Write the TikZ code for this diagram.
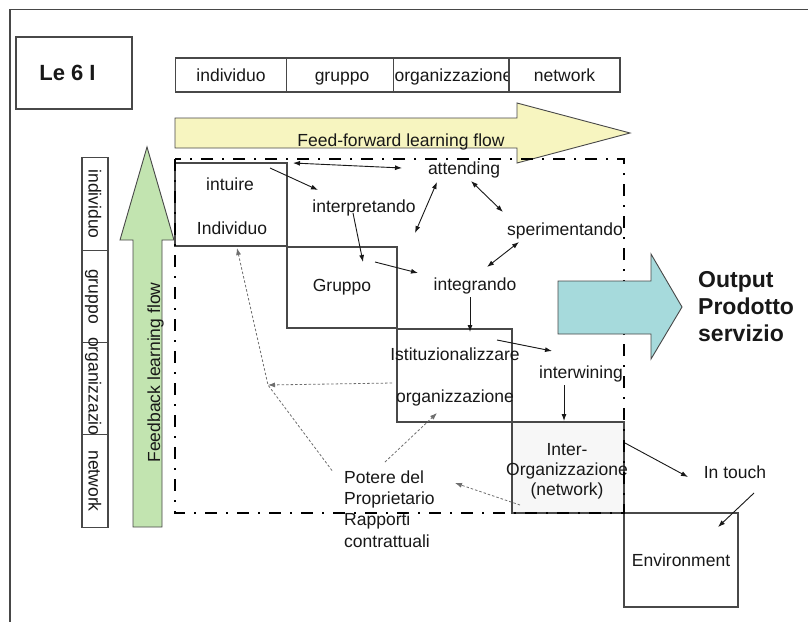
\documentclass[tikz,border=0pt]{standalone}
\usepackage{fontspec}
\setmainfont{Liberation Sans}
\usetikzlibrary{arrows.meta}
\definecolor{ffyellow}{RGB}{247,245,192}
\definecolor{fbgreen}{RGB}{194,228,176}
\definecolor{outteal}{RGB}{166,218,220}
\definecolor{ink}{RGB}{24,24,24}
\definecolor{edge}{RGB}{72,72,72}
\definecolor{fbline}{RGB}{110,110,110}

\begin{document}
\begin{tikzpicture}[x=1pt,y=-1pt,
  >={Latex[length=7pt,width=5pt]},
  every node/.style={text=ink, inner sep=1pt},
  lbl/.style={font=\fontsize{17.5}{20}\selectfont},
  box/.style={draw=edge, line width=1.2pt, fill=white},
  celltext/.style={lbl, text height=12.6pt, text depth=0pt},
  cellT/.style={box, minimum width=111pt, minimum height=34pt, celltext},
  cellL/.style={box, rotate=-90, minimum width=92.25pt, minimum height=26pt, celltext},
  conn/.style={draw=ink, line width=0.9pt, ->},
  dconn/.style={draw=ink, line width=0.9pt, <->},
  fb/.style={draw=fbline, line width=0.8pt, dash pattern=on 2.5pt off 2pt, ->},
  bigarrow/.style={draw=edge, line width=0.9pt},
  areaframe/.style={draw=black, line width=2.7pt, dash pattern=on 12pt off 9pt on 2pt off 9pt}
]
\useasboundingbox (0,0) rectangle (808,622);
\fill[white] (0,0) rectangle (808,622);

% page frame (top and left edges)
\draw[edge, line width=1.3pt] (808,9.5) -- (10,9.5) -- (10,622);

% title box
\node[box, minimum width=116pt, minimum height=72pt] (le6box) at (74,73) {};
\node[font=\bfseries\fontsize{22}{26}\selectfont] (le6) at (67.5,73) {Le 6 I};

% level bar along the top
\node[cellT] (tI) at (231,75) {individuo};
\node[cellT] (tG) at (342,75) {gruppo};
\node[cellT] (tO) at (453.5,75) {organizzazione};
\node[cellT] (tN) at (564.5,75) {network};

% feed-forward arrow
\filldraw[bigarrow, fill=ffyellow] (175,118) -- (517,118) -- (517,103) -- (630,133)
  -- (517,163) -- (517,148) -- (175,148) -- cycle;
\node[lbl, anchor=base] (fftext) at (401,146) {Feed-forward learning flow};

% level bar along the left side
\node[cellL] (lI) at (95,204) {individuo};
\node[cellL] (lG) at (95,296.5) {gruppo};
\node[cellL] (lObox) at (95,389) {};
\node[celltext, rotate=-90] (lOtext) at (95,396) {organizzazione};
\node[cellL] (lN) at (95,481) {network};

% feedback arrow
\filldraw[bigarrow, fill=fbgreen] (133,527) -- (133,240) -- (120,240) -- (147,147)
  -- (174,240) -- (162,240) -- (162,527) -- cycle;
\node[lbl, rotate=90, anchor=base] (fbtext) at (160,372.5) {Feedback learning flow};

% the staircase of levels
\node[box, minimum width=112pt, minimum height=83pt] (indiv) at (231,204.5) {};
\node[box, minimum width=110pt, minimum height=81pt, lbl] (grp) at (342,287.5) {Gruppo};
\node[box, minimum width=115pt, minimum height=93pt] (org) at (454.5,375.5) {};
\node[box, fill=gray!6, minimum width=112pt, minimum height=91pt] (inter) at (568,467.5) {};
\node[box, minimum width=114pt, minimum height=94pt, lbl] (env) at (681,560) {Environment};

\node[lbl] (intuire) at (230,184) {intuire};
\node[lbl] (individuo) at (232,228.5) {Individuo};
\node[lbl] (istit) at (455,354) {Istituzionalizzare};
\node[lbl] (orgtext) at (455,398) {organizzazione};
\node[lbl, align=center, anchor=north, inner sep=0pt] (intertext) at (567,443.5)
  {Inter-\\Organizzazione\\(network)};

% learning area
\draw[areaframe] (175,159) rectangle (624,513);

% output arrow
\filldraw[bigarrow, fill=outteal] (558,281) -- (651,281) -- (651,254) -- (682,307)
  -- (651,359) -- (651,334) -- (558,334) -- cycle;
\node[font=\bfseries\fontsize{23}{27}\selectfont, align=left, anchor=north west, inner sep=0pt]
  (output) at (698,271.5) {Output\\Prodotto\\servizio};

% processes
\node[lbl] (attending) at (464,170) {attending};
\node[lbl] (interp) at (364,208) {interpretando};
\node[lbl] (sperim) at (565,231) {sperimentando};
\node[lbl] (integr) at (475,286) {integrando};
\node[lbl] (interw) at (581,374) {interwining};
\node[lbl] (intouch) at (735,472) {In touch};
\node[font=\fontsize{17.5}{21.3}\selectfont, align=left, anchor=north west, inner sep=0pt]
  (potere) at (344,470.5) {Potere del\\Proprietario\\Rapporti\\contrattuali};

% feed-forward links
\draw[dconn] ([shift={(62,-41.5)}]indiv.center) -- ([shift={(-62,-2)}]attending.center);
\draw[conn] ([shift={(40,-16)}]intuire.center) -- ([shift={(-46,-18)}]interp.center);
\draw[conn] ([shift={(-11,5)}]interp.center) -- ([shift={(21,-25.5)}]grp.center);
\draw[conn] ([shift={(33,-25.5)}]grp.center) -- ([shift={(-57,-13)}]integr.center);
\draw[dconn] ([shift={(-27,12)}]attending.center) -- ([shift={(-60,-53)}]integr.center);
\draw[dconn] ([shift={(7,11)}]attending.center) -- ([shift={(-62,-19)}]sperim.center);
\draw[dconn] ([shift={(-46,11)}]sperim.center) -- ([shift={(12,-19)}]integr.center);
\draw[conn] ([shift={(-5,11)}]integr.center) -- ([shift={(15.5,-43.5)}]org.center);
\draw[conn] ([shift={(42,-14)}]istit.center) -- ([shift={(-29,-23)}]interw.center);
\draw[conn] ([shift={(-17,11)}]interw.center) -- ([shift={(-4,-46.5)}]inter.center);
\draw[conn] ([shift={(57,-24.5)}]inter.center) -- ([shift={(-47,5)}]intouch.center);
\draw[conn] ([shift={(19,21)}]intouch.center) -- ([shift={(37,-33)}]env.center);

% feedback links
\coordinate (fbk) at (268,385);
\draw[fb] ([shift={(-62.5,7.5)}]org.center) -- (fbk);
\draw[fb] ([shift={(-12,0)}]potere.north west) -- (fbk) -- ([shift={(6,43.5)}]indiv.center);
\draw[fb] ([shift={(41,-8.5)}]potere.north west) -- ([shift={(-17.5,37.5)}]org.center);
\draw[fb] ([shift={(-48,37.5)}]inter.center) -- ([shift={(111,12.5)}]potere.north west);
\end{tikzpicture}
\end{document}
